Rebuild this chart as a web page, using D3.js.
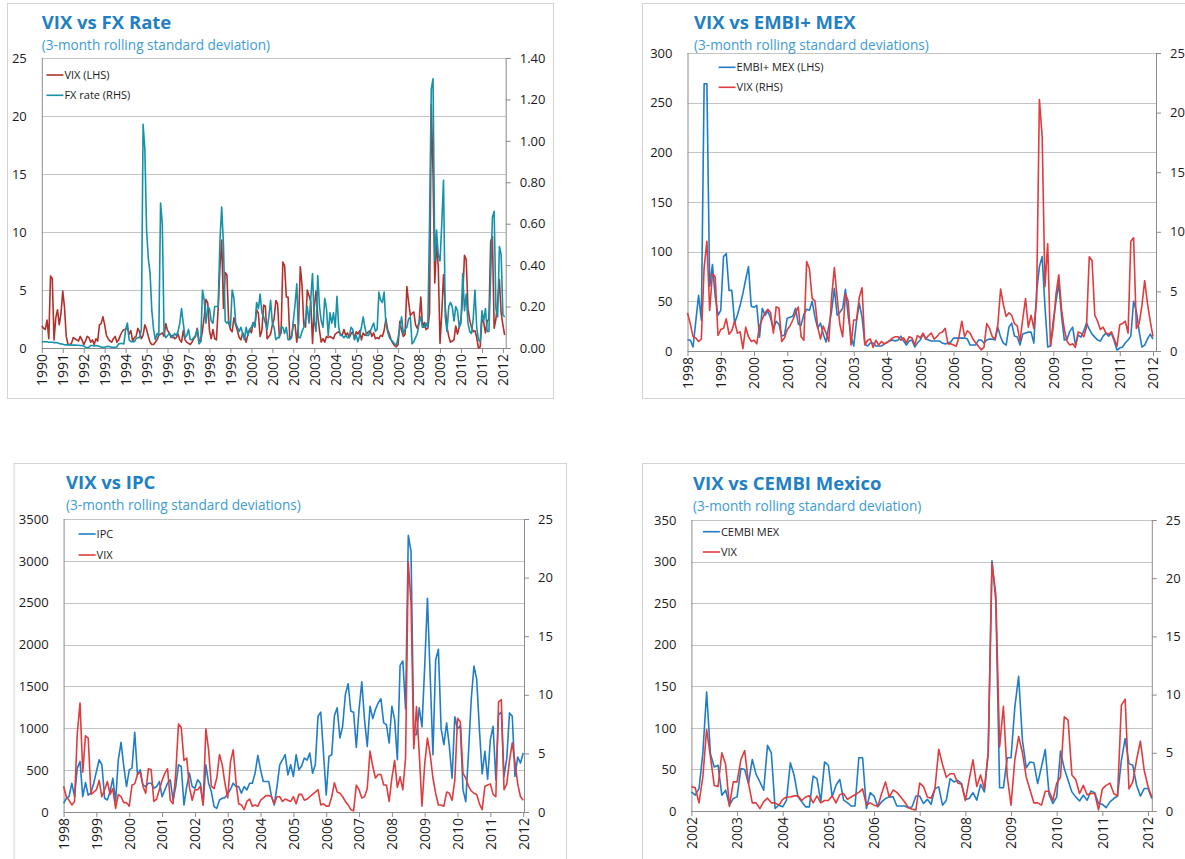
<!DOCTYPE html>
<html>
<head>
<meta charset="utf-8">
<script src="https://cdn.jsdelivr.net/npm/d3@7"></script>
<style>
  body { margin: 0; background: #fff; }
  svg { display: block; font-family: "Open Sans", "Noto Sans", sans-serif; }
</style>
</head>
<body>
<svg width="1185" height="859"></svg>
<script>
// ---- panel 1: VIX vs FX rate, monthly from Jan 1990
const fxStart = 1990;
const fxVix = [
  1.9,1.7,1.6,2.4,0.8,6.2,6.0,0.7,2.6,3.3,2.0,3.0,
  4.9,3.5,1.0,0.3,0.3,0.4,0.9,0.8,0.7,0.6,1.0,0.7,
  0.3,0.6,1.0,0.9,0.5,0.7,0.3,0.8,0.6,2.0,2.1,2.7,
  2.0,1.1,0.8,0.6,0.5,0.8,1.0,0.5,0.7,1.1,1.4,1.6,
  1.6,1.8,1.2,1.5,0.6,0.9,1.0,1.7,1.4,0.8,1.1,2.0,
  1.6,1.0,0.5,0.3,0.3,0.5,0.7,1.1,1.2,1.3,1.0,2.1,
  1.5,1.3,0.9,1.1,0.8,0.9,1.2,0.7,0.5,1.5,0.7,0.5,
  0.4,0.3,0.5,0.8,1.0,1.7,0.7,0.6,1.5,2.7,4.2,3.9,
  1.5,0.8,1.6,0.8,0.7,3.5,7.0,9.3,3.4,6.5,6.3,2.2,
  1.6,1.4,2.6,2.0,1.5,0.9,0.7,1.3,1.0,0.5,1.2,1.6,
  1.3,2.2,1.9,3.3,3.0,1.0,1.5,3.7,3.6,0.8,1.0,1.2,
  2.0,2.5,4.1,3.8,1.0,1.3,7.4,7.1,4.4,4.4,0.8,1.0,
  2.0,2.0,0.5,2.0,7.0,5.4,2.0,1.8,5.0,4.5,4.0,0.4,
  3.5,4.9,2.8,1.5,0.5,0.8,0.5,1.0,0.9,1.0,0.9,0.8,
  1.2,1.3,1.4,1.2,1.1,1.6,1.1,1.3,0.9,1.2,1.4,0.8,
  1.4,1.2,1.5,0.7,1.3,1.1,1.2,1.4,1.5,1.0,1.3,0.8,
  0.9,0.8,1.1,1.0,1.5,2.5,1.6,1.2,0.7,0.4,0.2,0.1,
  0.3,2.3,1.5,1.0,1.2,5.3,4.0,2.8,3.0,3.1,2.0,1.7,
  2.2,4.4,1.8,2.2,1.6,1.7,3.0,21.0,15.0,5.6,9.0,7.0,
  0.4,3.0,6.3,3.5,1.8,1.0,0.5,0.6,0.7,1.9,1.2,1.8,
  2.5,4.5,8.0,7.6,3.4,2.4,1.8,1.4,1.5,0.9,0.0,0.1,
  2.5,2.2,1.3,2.3,2.5,9.2,9.6,1.7,2.5,4.0,5.9,3.0,
  2.0,1.1
];
const fxRate = [
  .03,.03,.03,.03,.028,.028,.028,.026,.026,.025,.022,.02,
  .018,.016,.015,.015,.015,.014,.014,.014,.013,.013,.012,.012,
  .01,.004,.002,.004,.012,.012,.01,.012,.01,.008,.004,.003,
  .004,.006,.008,.006,.004,.003,.004,.005,.02,.022,.022,.02,
  .09,.12,.04,.03,.03,.03,.045,.05,.05,.09,1.08,.96,
  .57,.43,.36,.18,.09,.04,.07,.06,.7,.6,.07,.05,
  .06,.07,.06,.05,.07,.06,.08,.12,.19,.12,.05,.06,
  .09,.04,.04,.05,.06,.09,.02,.03,.28,.23,.12,.2,
  .19,.13,.12,.2,.2,.2,.52,.68,.5,.13,.12,.13,
  .1,.28,.24,.12,.1,.08,.1,.07,.04,.1,.06,.09,
  .1,.12,.1,.22,.19,.26,.17,.15,.12,.09,.15,.23,
  .12,.1,.04,.05,.05,.1,.1,.07,.1,.04,.04,.05,
  .13,.21,.31,.05,.05,.08,.1,.14,.2,.12,.24,.36,
  .13,.08,.35,.2,.13,.1,.24,.19,.06,.17,.12,.17,
  .1,.25,.1,.06,.06,.05,.06,.05,.05,.1,.09,.04,
  .06,.03,.06,.1,.15,.1,.06,.06,.08,.1,.12,.08,
  .09,.27,.23,.22,.27,.12,.08,.05,.04,.03,.02,.015,
  .05,.1,.15,.07,.09,.1,.14,.15,.02,.03,.05,.07,
  .12,.15,.1,.1,.12,.1,.6,1.25,1.30,.42,.57,.45,
  .42,.6,.81,.15,.08,.2,.22,.2,.13,.2,.18,.1,
  .12,.36,.18,.26,.12,.08,.07,.14,.28,.1,.04,.03,
  .18,.13,.19,.08,.08,.35,.63,.66,.19,.15,.49,.45,
  .16,.15
];
const fxYears = d3.range(1990, 2013);
const fxLeftTicks = [0, 5, 10, 15, 20, 25];
const fxRightTicks = [0, 0.2, 0.4, 0.6, 0.8, 1.0, 1.2, 1.4];

// ---- panel 2: VIX vs EMBI+ MEX, monthly from Jan 1998
const embiStart = 1998;
const embiMex = [
  11,11,4,30,56,31,269,269,65,87,55,36,
  41,95,98,61,61,28,36,46,58,72,85,45,
  44,46,14,43,36,40,33,22,30,27,15,16,
  33,34,35,43,27,26,37,42,41,50,34,23,
  28,17,9,25,40,63,36,39,43,62,35,15,
  5,30,48,34,7,5,8,8,5,5,5,7,
  9,10,11,10,11,15,10,6,10,11,4,8,11,17,
  12,11,10,10,10,10,8,7,8,9,13,13,
  13,13,13,12,6,6,6,11,11,8,11,12,
  12,11,24,14,8,6,24,28,15,14,6,17,
  18,19,19,8,60,85,95,45,4,5,30,50,
  68,35,11,12,20,24,6,16,14,20,28,22,
  17,14,11,10,15,18,15,18,10,1,3,4,
  8,11,15,50,40,20,4,6,12,17,12
];
const embiVix = [
  3.2,2.3,1.2,1.1,0.8,1.0,7.0,9.2,3.4,6.5,6.2,1.3,
  1.8,1.9,2.7,1.4,1.7,2.5,1.5,1.6,0.2,2.0,1.2,0.8,
  0.9,0.6,2.1,2.7,3.2,3.5,3.2,1.5,3.7,3.6,0.8,1.1,
  1.8,2.1,2.6,3.2,3.7,1.2,0.9,7.5,6.9,4.4,4.2,2.0,
  1.0,2.1,1.5,0.8,4.5,7.0,4.5,2.2,1.2,4.8,4.2,0.5,
  2.6,2.6,4.5,5.3,0.5,0.9,1.0,0.3,0.9,0.5,0.8,0.6,
  0.7,0.9,1.1,1.2,1.2,0.9,1.1,0.7,1.2,1.1,0.5,1.3,1.1,1.5,
  1.0,1.3,1.5,1.0,1.2,1.5,1.6,1.9,0.6,0.6,0.5,0.4,
  1.2,2.5,1.2,1.7,1.5,1.0,0.7,0.4,0.1,0.3,2.3,1.9,
  1.2,1.0,2.2,5.2,3.9,2.9,3.2,3.0,2.3,2.1,0.8,2.7,
  4.4,2.0,3.0,1.9,4.3,21.1,18.0,5.4,9.0,0.4,2.0,4.8,
  6.4,3.5,1.8,0.8,0.5,0.6,0.3,1.6,1.5,1.2,2.0,7.9,
  7.6,3.0,2.5,1.8,2.0,1.5,1.4,1.6,1.0,0.4,2.2,2.3,
  2.5,1.5,9.2,9.5,1.9,2.3,3.8,5.9,4.0,2.5,1.2
];
const embiYears = d3.range(1998, 2013);
const embiLeftTicks = [0, 50, 100, 150, 200, 250, 300];
const embiRightTicks = [0, 5, 10, 15, 20, 25];

// ---- panel 3: VIX vs IPC, monthly from Jan 1998
const ipcStart = 1998;
const ipc = [
  104,164,184,344,184,524,604,184,352,200,230,344,
  484,624,564,164,144,244,404,124,624,832,544,304,
  504,524,952,444,504,324,304,344,344,284,304,364,
  184,264,344,384,144,304,564,544,84,304,464,304,
  284,384,344,84,564,344,244,64,44,144,164,172,
  216,272,344,304,304,224,304,264,344,344,464,676,
  504,364,364,364,184,84,304,564,624,684,444,564,
  424,684,504,550,644,620,704,464,564,1144,1192,704,
  204,664,684,1152,1244,884,1024,1404,1532,1204,1192,772,
  1224,1556,1104,784,1264,1116,1224,1304,1352,1064,1044,824,
  1264,1104,624,1752,1804,1232,3304,3112,924,924,1244,1016,
  1744,2552,1624,684,1812,1944,992,804,1064,784,404,1136,
  992,1032,264,124,704,1344,1744,1584,984,456,724,392,
  864,1024,384,1164,1192,424,644,1184,1144,424,656,584,704
];
const ipcVix = [
  2.2,1.3,1.0,0.6,0.9,6.7,9.3,3.4,6.5,6.3,1.5,1.7,
  1.9,2.7,1.3,1.9,2.6,1.5,2.0,0.3,1.5,1.3,0.8,0.8,
  0.5,2.3,2.4,3.2,3.4,2.2,1.6,3.7,3.6,0.9,1.1,1.9,
  2.7,3.3,3.7,1.0,0.7,3.3,7.5,7.2,4.4,4.6,2.1,1.0,
  1.9,1.9,2.2,0.6,7.1,5.3,2.2,2.0,2.9,4.9,4.0,2.4,
  1.2,4.3,5.3,2.6,0.7,0.6,0.2,0.9,1.1,0.5,0.6,0.5,
  1.0,1.2,1.4,1.4,1.3,0.7,1.3,1.3,0.9,1.1,1.0,0.9,
  1.3,0.7,1.5,1.5,1.0,1.1,1.3,1.5,1.7,1.9,0.6,0.7,
  0.5,0.5,1.3,2.5,1.7,1.6,1.3,0.9,0.6,0.2,0.1,2.3,
  1.9,1.2,1.3,2.0,5.2,3.9,2.9,3.2,3.2,2.3,2.3,0.9,
  2.9,4.4,2.1,3.0,1.9,4.6,21.3,17.8,5.4,9.0,5.0,0.5,
  4.1,6.3,4.9,2.9,1.6,0.6,0.6,0.5,1.7,1.6,1.0,2.7,
  8.0,7.7,3.3,2.9,2.2,1.8,1.6,1.5,0.7,0.2,2.2,2.3,
  2.4,1.5,1.3,9.4,9.6,1.9,2.4,4.4,5.9,4.2,2.4,1.3,1.0
];
const ipcYears = d3.range(1998, 2013);
const ipcLeftTicks = [0, 500, 1000, 1500, 2000, 2500, 3000, 3500];
const ipcRightTicks = [0, 5, 10, 15, 20, 25];

// ---- panel 4: VIX vs CEMBI Mexico, monthly from Jan 2002
const cembiStart = 2002;
const cembiMex = [
  23,19,27,69,143,69,53,55,19,25,7,15,
  17,51,50,33,62,44,35,25,79,70,3,7,
  5,13,58,43,17,11,5,5,42,39,11,59,
  55,17,31,38,13,10,6,6,64,64,3,22,
  18,5,11,15,17,17,6,6,6,4,5,18,
  18,9,14,8,27,29,7,13,39,35,37,33,
  14,15,22,13,32,23,69,301,253,28,28,64,
  64,125,162,85,52,59,58,33,53,74,20,9,
  17,72,51,37,23,17,12,19,13,24,22,9,
  8,4,11,15,18,61,87,57,55,31,18,27,
  27,15
];
const cembiVix = [
  2.1,2.0,0.7,2.9,7.0,4.7,2.2,2.1,5.0,4.0,0.4,2.5,
  2.5,4.4,5.2,2.4,0.7,0.7,0.2,0.8,1.1,0.7,0.7,0.5,
  1.0,1.2,1.2,1.3,1.3,0.9,1.2,1.3,0.7,1.3,0.7,0.9,
  0.9,1.3,0.7,1.4,1.5,1.0,1.2,1.4,1.6,1.9,0.5,0.7,
  0.5,0.4,1.5,2.5,1.2,1.8,1.6,1.2,0.8,0.3,0.15,0.1,
  2.4,2.1,1.2,1.1,1.9,5.3,4.0,2.9,3.2,3.2,2.4,2.3,
  0.9,2.7,4.4,2.1,3.1,1.9,5.0,21.3,18.6,5.5,9.0,3.0,
  0.5,4.4,6.4,5.0,2.9,1.8,0.7,0.7,0.5,1.7,1.7,0.9,
  2.4,2.9,8.1,7.8,3.1,2.7,1.5,2.2,1.4,1.5,1.5,0.1,
  1.9,2.2,2.4,1.5,1.3,9.1,9.6,1.9,2.5,4.4,6.0,3.5,
  2.1,1.2
];
const cembiYears = d3.range(2002, 2013);
const cembiLeftTicks = [0, 50, 100, 150, 200, 250, 300, 350];
const cembiRightTicks = [0, 5, 10, 15, 20, 25];

const svg = d3.select("svg");

const titleColor = "#1F80C4";
const subColor = "#3D9BD6";
const axisColor = "#8C8C8C";
const gridColor = "#C4C4C4";

function drawPanel(p) {
  const g = svg.append("g");

  // frame
  g.append("rect")
    .attr("x", p.box[0] + 0.5).attr("y", p.box[1] + 0.5)
    .attr("width", p.box[2] - p.box[0]).attr("height", p.box[3] - p.box[1])
    .attr("fill", "none").attr("stroke", "#D4D4D4");

  const x = d3.scaleLinear().domain([p.years[0], p.years[p.years.length - 1]]).range(p.xRange);
  const yL = d3.scaleLinear().domain([0, d3.max(p.leftTicks)]).range([p.bottom, p.top]);
  const yR = d3.scaleLinear().domain([0, d3.max(p.rightTicks)]).range([p.bottom, p.top]);

  // gridlines
  g.selectAll(".grid").data(p.leftTicks.filter(d => d > 0)).join("line")
    .attr("x1", p.left).attr("x2", p.right)
    .attr("y1", d => Math.round(yL(d)) + 0.5).attr("y2", d => Math.round(yL(d)) + 0.5)
    .attr("stroke", gridColor).attr("stroke-width", 1);

  // left axis
  const la = g.append("g").attr("transform", `translate(${p.left},0)`)
    .call(d3.axisLeft(yL).tickValues(p.leftTicks).tickSize(0).tickPadding(15)
      .tickFormat(d3.format("d")));
  la.select(".domain").remove();
  la.selectAll("text").attr("font-size", 13).attr("fill", "#1a1a1a")
    .attr("font-family", "Open Sans, sans-serif");

  // right axis
  const ra = g.append("g").attr("transform", `translate(${p.right},0)`)
    .call(d3.axisRight(yR).tickValues(p.rightTicks).tickSize(5).tickPadding(9)
      .tickFormat(p.rightFormat));
  ra.select(".domain").remove();
  ra.selectAll("line").attr("stroke", axisColor);
  ra.selectAll("text").attr("font-size", 13).attr("fill", "#1a1a1a")
    .attr("font-family", "Open Sans, sans-serif");

  // x axis
  const xa = g.append("g").attr("transform", `translate(0,${p.bottom})`)
    .call(d3.axisBottom(x).tickValues(p.years).tickFormat(d3.format("d")).tickSize(5).tickPadding(0));
  xa.select(".domain").remove();
  xa.selectAll("line").attr("stroke", axisColor);
  xa.selectAll("text")
    .attr("font-size", 14).attr("fill", "#1a1a1a")
    .attr("font-family", "Open Sans, sans-serif")
    .attr("text-anchor", "end")
    .attr("dy", "0.35em")
    .attr("transform", "translate(0,6) rotate(-90)")
    .attr("y", 0).attr("x", 0);

  // axis lines
  g.append("line").attr("x1", p.left + 0.5).attr("x2", p.left + 0.5)
    .attr("y1", p.top).attr("y2", p.bottom).attr("stroke", axisColor);
  g.append("line").attr("x1", p.right + 0.5).attr("x2", p.right + 0.5)
    .attr("y1", p.top).attr("y2", p.bottom).attr("stroke", axisColor);
  g.append("line").attr("x1", p.left).attr("x2", p.right + 0.5)
    .attr("y1", p.bottom + 0.5).attr("y2", p.bottom + 0.5).attr("stroke", axisColor);

  // series
  p.series.forEach(s => {
    const ys = s.axis === "left" ? yL : yR;
    const line = d3.line()
      .x((d, i) => x(p.start + i / 12))
      .y(d => ys(d));
    g.append("path").datum(s.values)
      .attr("d", line)
      .attr("fill", "none")
      .attr("stroke", s.color)
      .attr("stroke-width", 1.6)
      .attr("stroke-linejoin", "round");
  });

  // legend
  p.series.forEach((s, i) => {
    const ly = p.legend[1] + i * p.legendGap;
    g.append("line")
      .attr("x1", p.legend[0]).attr("x2", p.legend[0] + 17)
      .attr("y1", ly).attr("y2", ly)
      .attr("stroke", s.color).attr("stroke-width", 1.6);
    g.append("text")
      .attr("x", p.legend[0] + 18).attr("y", ly).attr("dy", "0.35em")
      .attr("font-size", 11).attr("fill", "#1a1a1a")
      .text(s.name);
  });

  // titles
  g.append("text").attr("x", p.titleX).attr("y", p.titleY)
    .attr("font-size", 18.5).attr("font-weight", "bold").attr("fill", titleColor)
    .text(p.title);
  g.append("text").attr("x", p.titleX).attr("y", p.titleY + 20.5)
    .attr("font-size", 13.6).attr("fill", subColor)
    .text(p.subtitle);
}

drawPanel({
  box: [7, 3, 553, 398], left: 41.8, right: 505.7, top: 58, bottom: 348,
  xRange: [41.8, 502.9], years: fxYears, start: fxStart,
  leftTicks: fxLeftTicks, rightTicks: fxRightTicks, rightFormat: d3.format(".2f"),
  series: [
    {name: "VIX (LHS)", values: fxVix, axis: "left", color: "#B2302B"},
    {name: "FX rate (RHS)", values: fxRate, axis: "right", color: "#1591AA"}
  ],
  legend: [46.4, 75], legendGap: 20.3,
  titleX: 41.8, titleY: 29, title: "VIX vs FX Rate",
  subtitle: "(3-month rolling standard deviation)"
});

drawPanel({
  box: [642, 3, 1200, 398], left: 687.5, right: 1156, top: 53, bottom: 351,
  xRange: [687.5, 1153], years: embiYears, start: embiStart,
  leftTicks: embiLeftTicks, rightTicks: embiRightTicks, rightFormat: d3.format("d"),
  series: [
    {name: "EMBI+ MEX (LHS)", values: embiMex, axis: "left", color: "#1F7DC8"},
    {name: "VIX (RHS)", values: embiVix, axis: "right", color: "#E03C3E"}
  ],
  legend: [718.6, 67.3], legendGap: 20,
  titleX: 694, titleY: 29, title: "VIX vs EMBI+ MEX",
  subtitle: "(3-month rolling standard deviations)"
});

drawPanel({
  box: [13.6, 463, 566, 900], left: 63.6, right: 524, top: 519, bottom: 812,
  xRange: [63.6, 523.2], years: ipcYears, start: ipcStart,
  leftTicks: ipcLeftTicks, rightTicks: ipcRightTicks, rightFormat: d3.format("d"),
  series: [
    {name: "IPC", values: ipc, axis: "left", color: "#1F7DC8"},
    {name: "VIX", values: ipcVix, axis: "right", color: "#E03C3E"}
  ],
  legend: [78.6, 534], legendGap: 21,
  titleX: 66, titleY: 489, title: "VIX vs IPC",
  subtitle: "(3-month rolling standard deviations)"
});

drawPanel({
  box: [642, 463, 1200, 900], left: 691.4, right: 1151.8, top: 520, bottom: 811,
  xRange: [691.4, 1148], years: cembiYears, start: cembiStart,
  leftTicks: cembiLeftTicks, rightTicks: cembiRightTicks, rightFormat: d3.format("d"),
  series: [
    {name: "CEMBI MEX", values: cembiMex, axis: "left", color: "#1F7DC8"},
    {name: "VIX", values: cembiVix, axis: "right", color: "#E03C3E"}
  ],
  legend: [702.9, 531.7], legendGap: 20.3,
  titleX: 693, titleY: 490, title: "VIX vs CEMBI Mexico",
  subtitle: "(3-month rolling standard deviation)"
});
</script>
</body>
</html>
